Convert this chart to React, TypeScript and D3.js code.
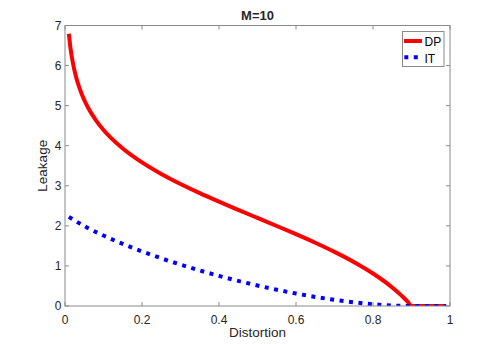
import React from "react";
import * as d3 from "d3";

const distortion = [0.01, 0.015, 0.02, 0.025, 0.03, 0.04, 0.05, 0.06, 0.08, 0.1, 0.12, 0.15, 0.2, 0.25, 0.3, 0.35, 0.4, 0.45, 0.5, 0.55, 0.6, 0.65, 0.7, 0.75, 0.8, 0.85, 0.86, 0.87, 0.88, 0.89, 0.9, 0.95, 0.99];
const dpLeakage = [6.792, 6.382, 6.089, 5.861, 5.673, 5.375, 5.142, 4.949, 4.64, 4.394, 4.19, 3.932, 3.584, 3.296, 3.045, 2.816, 2.603, 2.398, 2.197, 1.997, 1.792, 1.578, 1.35, 1.099, 0.811, 0.463, 0.382, 0.296, 0.205, 0.107, 0, 0, 0];
const itDistortion = [0.01, 0.05, 0.1, 0.15, 0.2, 0.25, 0.3, 0.35, 0.4, 0.45, 0.5, 0.55, 0.6, 0.65, 0.7, 0.75, 0.8, 0.85, 0.9, 0.95, 0.99];
const itLeakage = [2.225, 1.994, 1.758, 1.55, 1.363, 1.191, 1.033, 0.886, 0.751, 0.626, 0.511, 0.406, 0.311, 0.227, 0.154, 0.092, 0.044, 0.012, 0, 0, 0];
const xTicks = [0, 0.2, 0.4, 0.6, 0.8, 1];
const xTickLabels = ["0", "0.2", "0.4", "0.6", "0.8", "1"];
const yTicks = [0, 1, 2, 3, 4, 5, 6, 7];
const seriesNames = ["DP", "IT"];

export default function App() {
  const W = 498, H = 344;
  const L = 65, R = 450, T = 25.5, B = 306;
  const x = d3.scaleLinear().domain([0, 1]).range([L, R]);
  const y = d3.scaleLinear().domain([0, 7]).range([B, T]);
  const dpLine = d3.line<number>().x((_, i) => x(distortion[i])).y((d) => y(d)).curve(d3.curveMonotoneX)(dpLeakage) || "";
  const itLine = d3.line<number>().x((_, i) => x(itDistortion[i])).y((d) => y(d)).curve(d3.curveMonotoneX)(itLeakage) || "";
  const font = "'Liberation Sans', Arial, Helvetica, sans-serif";
  const axisColor = "#8a8a8a";
  const textColor = "#262626";
  return (
    <svg width={W} height={H} style={{ position: "absolute", left: 0, top: 0, background: "#fff" }} fontFamily={font}>
      <rect x={0} y={0} width={W} height={H} fill="#fff" />
      <defs>
        <clipPath id="clip">
          <rect x={L} y={T - 5} width={R - L + 4} height={B - T + 5} />
        </clipPath>
      </defs>
      <path d={dpLine} fill="none" stroke="#ff0000" strokeWidth={4} clipPath="url(#clip)" />
      <path d={itLine} fill="none" stroke="#0000ff" strokeWidth={4} strokeDasharray="4 5.5" clipPath="url(#clip)" />
      {/* axes box */}
      <rect x={L} y={T} width={R - L} height={B - T} fill="none" stroke={axisColor} strokeWidth={1} />
      {xTicks.map((t, i) => (
        <g key={"x" + i}>
          <line x1={x(t)} x2={x(t)} y1={B} y2={B - 4} stroke={axisColor} />
          <line x1={x(t)} x2={x(t)} y1={T} y2={T + 4} stroke={axisColor} />
          <text x={x(t)} y={323.5} textAnchor="middle" fontSize={12} fill={textColor}>{xTickLabels[i]}</text>
        </g>
      ))}
      {yTicks.map((t, i) => (
        <g key={"y" + i}>
          <line x1={L} x2={L + 4} y1={y(t)} y2={y(t)} stroke={axisColor} />
          <line x1={R} x2={R - 4} y1={y(t)} y2={y(t)} stroke={axisColor} />
          <text x={61.5} y={y(t) + 4.3} textAnchor="end" fontSize={12} fill={textColor}>{t}</text>
        </g>
      ))}
      <text x={(L + R) / 2} y={336.5} textAnchor="middle" fontSize={13.5} fill={textColor}>Distortion</text>
      <text transform={`translate(47,${(T + B) / 2}) rotate(-90)`} textAnchor="middle" fontSize={13.5} fill={textColor}>Leakage</text>
      <text x={(L + R) / 2} y={20} textAnchor="middle" fontSize={13} fontWeight="bold" fill={textColor}>M=10</text>
      {/* legend */}
      <rect x={402.5} y={31.5} width={41.5} height={35} fill="#fff" stroke={axisColor} strokeWidth={1} />
      <line x1={404} x2={422} y1={41} y2={41} stroke="#ff0000" strokeWidth={4} />
      <text x={424.5} y={46.3} fontSize={12} fill="#000">{seriesNames[0]}</text>
      <line x1={404.3} x2={422} y1={57.3} y2={57.3} stroke="#0000ff" strokeWidth={4} strokeDasharray="4 5.5" />
      <text x={424.5} y={62.5} fontSize={12} fill="#000">{seriesNames[1]}</text>
    </svg>
  );
}
